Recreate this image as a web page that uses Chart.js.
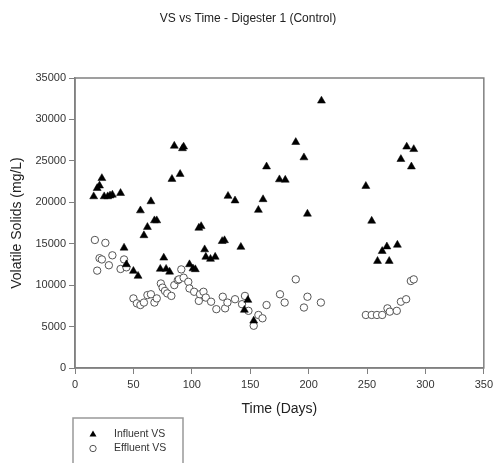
<!DOCTYPE html>
<html>
<head>
<meta charset="utf-8">
<script src="https://cdn.jsdelivr.net/npm/chart.js@4"></script>
<style>
    html, body { margin: 0; padding: 0; background: #fff; }
</style>
</head>
<body>
<canvas id="chart" width="497" height="463"></canvas>
<script>
/* DATA */
const influentDays = [16, 19, 21, 23, 25, 28, 30, 32, 39, 42, 44, 50, 54, 56, 59, 62, 65, 68, 70,
    73, 76, 78, 81, 83, 85, 90, 92, 93, 98, 101, 103, 106, 108, 111, 112, 116, 120,
    126, 128, 131, 137, 142, 145, 148, 153, 157, 161, 164, 175, 180, 189, 196, 199, 211,
    249, 254, 259, 263, 267, 269, 276, 279, 284, 288, 290];
const influentVS = [20700, 21700, 22000, 22900, 20700, 20700, 20800, 20900, 21100, 14500, 12500, 11700, 11100, 19000, 16000, 17000, 20100, 17800, 17800,
    11950, 13300, 11950, 11600, 22800, 26800, 23400, 26500, 26700, 12500, 12000, 11900, 16900, 17100, 14300, 13400, 13150, 13400,
    15300, 15400, 20750, 20200, 14600, 7000, 8200, 5700, 19060, 20350, 24300, 22750, 22700, 27250, 25400, 18600, 32250,
    21950, 17750, 12900, 14100, 14650, 12900, 14850, 25200, 26700, 24300, 26400];

const effluentDays = [17, 19, 21, 23, 26, 29, 32, 39, 42, 44, 50, 53, 56, 59, 62, 65, 68, 70, 73.5, 75,
    77, 79, 82.5, 85, 88, 89, 91, 93, 97, 98, 102, 106, 107, 110, 112, 116.5, 121, 126.5, 128.5, 130.5,
    137, 143, 145.5, 148.5, 153, 157, 160.5, 164, 175.5, 179.5, 189, 196, 199, 210.5, 249, 254, 258.5, 263, 267.5, 269.5,
    275.5, 279, 283.5, 287.5, 290];
const effluentVS = [15450, 11750, 13250, 13100, 15100, 12400, 13600, 11950, 13100, 12150, 8400, 7800, 7600, 7900, 8800, 8900, 7900, 8400, 10200, 9700,
    9300, 9000, 8700, 10000, 10600, 10700, 11900, 10900, 10400, 9600, 9200, 8100, 8900, 9200, 8500, 8000, 7100, 8600, 7200, 7900,
    8300, 7700, 8700, 6900, 5100, 6400, 6000, 7600, 8900, 7900, 10700, 7300, 8600, 7900, 6400, 6400, 6400, 6400, 7200, 6800,
    6900, 8000, 8300, 10500, 10700];

const xTicks = [0, 50, 100, 150, 200, 250, 300, 350];
const yTicks = [0, 5000, 10000, 15000, 20000, 25000, 30000, 35000];

const FONT = "'Liberation Sans', Arial, sans-serif";
const AXIS = "#808080";

function toPoints(xs, ys) {
    return xs.map((x, i) => ({ x: x, y: ys[i] }));
}

/* TITLE + FRAME + LEGEND */
const decorations = {
    id: "decorations",
    beforeDatasetsDraw(chart) {
        const { ctx, chartArea: a } = chart;
        ctx.save();
        ctx.strokeStyle = AXIS;
        ctx.lineWidth = 1.5;
        ctx.strokeRect(a.left, a.top, a.right - a.left, a.bottom - a.top);
        ctx.restore();
    },
    afterDraw(chart) {
        const ctx = chart.ctx;
        ctx.save();
        ctx.fillStyle = "#222";
        ctx.font = "12px " + FONT;
        ctx.textAlign = "center";
        ctx.textBaseline = "middle";
        ctx.fillText("VS vs Time - Digester 1 (Control)", 248, 19);

        // legend box
        ctx.strokeStyle = "#999";
        ctx.lineWidth = 1.5;
        ctx.strokeRect(73, 418, 110, 60);

        ctx.fillStyle = "#000";
        ctx.beginPath();
        ctx.moveTo(93, 430.5);
        ctx.lineTo(96.5, 436.5);
        ctx.lineTo(89.5, 436.5);
        ctx.closePath();
        ctx.fill();

        ctx.strokeStyle = "#555";
        ctx.lineWidth = 1;
        ctx.beginPath();
        ctx.arc(93, 448.5, 3.2, 0, Math.PI * 2);
        ctx.stroke();

        ctx.fillStyle = "#333";
        ctx.font = "10.5px " + FONT;
        ctx.textAlign = "left";
        ctx.fillText("Influent VS", 114, 434);
        ctx.fillText("Effluent VS", 114, 448.5);
        ctx.restore();
    }
};

new Chart(document.getElementById("chart"), {
    type: "scatter",
    data: {
        datasets: [
            {
                label: "Influent VS",
                data: toPoints(influentDays, influentVS),
                pointStyle: "triangle",
                pointRadius: 4.6,
                backgroundColor: "#000",
                borderColor: "#000",
                borderWidth: 0.5
            },
            {
                label: "Effluent VS",
                data: toPoints(effluentDays, effluentVS),
                pointStyle: "circle",
                pointRadius: 3.7,
                backgroundColor: "#fff",
                borderColor: "#555",
                borderWidth: 1
            }
        ]
    },
    options: {
        responsive: false,
        animation: false,
        layout: { padding: { left: 0, right: 10, top: 78, bottom: 40 } },
        plugins: {
            legend: { display: false },
            tooltip: { enabled: false },
            title: { display: false }
        },
        scales: {
            x: {
                type: "linear",
                min: 0,
                max: 350,
                afterBuildTicks: s => { s.ticks = xTicks.map(v => ({ value: v })); },
                ticks: { color: "#333", font: { size: 11, family: FONT }, padding: 4, maxRotation: 0, callback: v => String(v) },
                grid: { drawOnChartArea: false, drawTicks: true, tickLength: 6, color: AXIS, lineWidth: 1 },
                border: { display: true, color: AXIS, width: 1.5 },
                title: { display: true, text: "Time (Days)", color: "#222", font: { size: 14, family: FONT }, padding: { top: 0, bottom: 5 } },
                afterFit: s => { s.height = 55; }
            },
            y: {
                type: "linear",
                min: 0,
                max: 35000,
                afterBuildTicks: s => { s.ticks = yTicks.map(v => ({ value: v })); },
                ticks: { color: "#333", font: { size: 11, family: FONT }, padding: 3, callback: v => String(v) },
                grid: { drawOnChartArea: false, drawTicks: true, tickLength: 6, color: AXIS, lineWidth: 1 },
                border: { display: true, color: AXIS, width: 1.5 },
                title: { display: true, text: "Volatile Solids (mg/L)", color: "#222", font: { size: 14, family: FONT }, padding: { top: 9, bottom: 0 } },
                afterFit: s => { s.width = 75; }
            }
        }
    },
    plugins: [decorations]
});
</script>
</body>
</html>
